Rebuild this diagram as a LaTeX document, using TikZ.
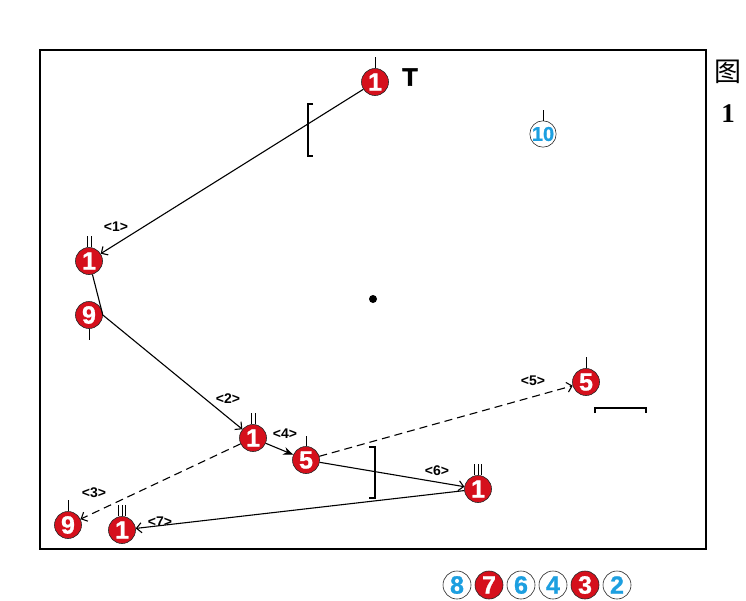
\documentclass[tikz,border=0pt]{standalone}
\usepackage{fontspec}
\setmainfont{Liberation Sans}
\newfontfamily\cjk{Noto Sans CJK SC}
\newfontfamily\serifa{Liberation Serif}
\newfontfamily\gruesa[FakeBold=2.5]{Liberation Sans Bold}
\newfontfamily\cifra[FakeBold=1]{Liberation Sans Bold}
\usetikzlibrary{arrows.meta}
\definecolor{rojo}{HTML}{D5101C}
\definecolor{azul}{HTML}{1D9FE0}
\tikzset{
  jr/.style={circle, draw=black!85, line width=0.6pt, fill=rojo, text=white, inner sep=0pt,
    minimum size=27pt, font=\cifra\fontsize{25}{25}\selectfont},
  ja/.style={circle, draw=black!85, line width=0.6pt, fill=white, text=azul, inner sep=0pt,
    minimum size=27pt, font=\cifra\fontsize{25}{25}\selectfont},
  etq/.style={font=\bfseries\fontsize{14}{14}\selectfont},
  marca/.style={line width=1pt},
  >={Straight Barb[length=5pt,width=10pt]},
}
\begin{document}
\begin{tikzpicture}[x=1pt, y=-1pt, line width=1.1pt]
  \useasboundingbox (0,0) rectangle (746,600);
  \draw[line width=2pt] (40,50) rectangle (706,549);

  % jugadores
  \node[jr] (j1a) at (375,82) {1};
  \node[ja, minimum size=25pt, font=\cifra\fontsize{20}{20}\selectfont] (j10) at (543,134) {10};
  \node[jr] (j1b) at (89,261) {1};
  \node[jr] (j9a) at (89,315) {9};
  \node[jr] (j1c) at (253,438) {1};
  \node[jr] (j5a) at (306,460) {5};
  \node[jr] (j1d) at (478,489) {1};
  \node[jr] (j5b) at (586,382) {5};
  \node[jr] (j9b) at (68,525) {9};
  \node[jr] (j1e) at (122,530) {1};

  % marcas
  \draw[marca] (j1a.north) -- ++(0,-11);
  \draw[marca] (j10.north) -- ++(0,-11);
  \draw[marca] (j5a.north) -- ++(0,-10);
  \draw[marca] (j5b.north) -- ++(0,-11);
  \draw[marca] (j9b.north) -- ++(0,-11);
  \draw[marca] (j9a.south) -- ++(0,11);
  \foreach \dx in {-2,2} {
    \draw[marca] ([xshift=\dx pt]j1b.north) -- ++(0,-11);
    \draw[marca] ([xshift=\dx pt]j1c.north) -- ++(0,-11);
  }
  \foreach \dx in {-3.5,0,3.5} {
    \draw[marca] ([xshift=\dx pt]j1d.north) -- ++(0,-11);
    \draw[marca] ([xshift=\dx pt]j1e.north) -- ++(0,-11);
  }

  % textos
  \node[font=\gruesa\fontsize{25}{25}\selectfont] (t) at (410,77) {T};
  \node[font=\cjk\fontsize{27}{27}\selectfont] (fig) at (728,72) {图};
  \node[font=\serifa\bfseries\fontsize{27}{27}\selectfont] (nfig) at (728,114) {1};
  \fill (373,299) circle (4pt);

  % recorridos
  \draw[->] (j1a) -- (j1b);
  \draw[->] (j1b) -- (j9a.east) -- (j1c);
  \draw[->, dashed, dash pattern=on 8pt off 5pt] (j1c) -- (j9b);
  \draw[-{Stealth[length=10pt,width=8pt]}] (j1c) -- (j5a);
  \draw[->, dashed, dash pattern=on 8pt off 5pt] (j5a) -- (j5b);
  \draw[->] (j5a) -- (j1d);
  \draw[->] (j1d) -- (j1e);

  \node[etq] (e1) at (116,227) {<1>};
  \node[etq] (e2) at (228,399) {<2>};
  \node[etq] (e3) at (94,493) {<3>};
  \node[etq] (e4) at (285,434) {<4>};
  \node[etq] (e5) at (533,381) {<5>};
  \node[etq] (e6) at (437,471) {<6>};
  \node[etq] (e7) at (160,522) {<7>};

  % corchetes
  \draw[line width=1.6pt] (313,104) -- (308,104) -- (308,156) -- (313,156);
  \draw[line width=1.6pt] (369,447) -- (375,447) -- (375,498) -- (369,498);
  \draw[line width=1.6pt] (595,413) -- (595,408) -- (646,408) -- (646,413);

  % leyenda
  \node[ja, minimum size=28pt] (l8) at (457,585) {8};
  \node[jr, minimum size=28pt] (l7) at (489,585) {7};
  \node[ja, minimum size=28pt] (l6) at (521,585) {6};
  \node[ja, minimum size=28pt] (l4) at (553,585) {4};
  \node[jr, minimum size=28pt] (l3) at (585,585) {3};
  \node[ja, minimum size=28pt] (l2) at (617,585) {2};
\end{tikzpicture}
\end{document}
